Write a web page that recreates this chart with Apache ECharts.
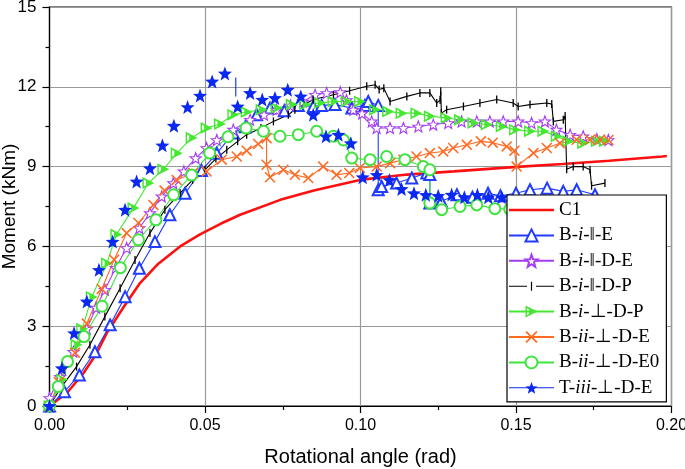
<!DOCTYPE html>
<html><head><meta charset="utf-8">
<script src="https://cdn.jsdelivr.net/npm/echarts@6/dist/echarts.min.js"></script>
<style>html,body{margin:0;padding:0;background:#fff}#c{width:685px;height:469px}</style>
</head><body><div id="c"></div>
<script>
// ---------- data ----------
const xAxisRange = [0, 0.2];
const xInterval = 0.05;
const yAxisRange = [0, 15];
const yInterval = 3;
const seriesNames = ['C1','B-i-‖-E','B-i-‖-D-E','B-i-‖-D-P','B-i-⊥-D-P','B-ii-⊥-D-E','B-ii-⊥-D-E0','T-iii-⊥-D-E'];

const C1 = [[0,0],[0.0056,0.49],[0.0109,1.23],[0.015,1.95],[0.0184,2.74],[0.024,3.75],[0.0291,4.62],[0.035,5.35],[0.042,6.0],[0.0484,6.45],[0.055,6.85],[0.0613,7.19],[0.0742,7.75],[0.085,8.1],[0.0998,8.5],[0.115,8.7],[0.13,8.82],[0.149,8.98],[0.165,9.1],[0.18,9.22],[0.197,9.38],[0.1985,9.4]];

const BiE = [[0,0],[0.0048,0.54],[0.0096,1.17],[0.0146,2.04],[0.0195,3.05],[0.0243,4.11],[0.0289,5.18],[0.0339,6.18],[0.0387,7.19],[0.0436,8.0],[0.0489,8.85],[0.0538,9.5],[0.0591,10.26],[0.063,10.5],[0.0666,10.95],[0.0709,11.2],[0.0755,11.1],[0.08,11.3],[0.0848,11.26],[0.0875,11.3],[0.0918,11.33],[0.0972,11.2],[0.1014,11.3],[0.1025,11.45],[0.1057,11.3],[0.1057,8.13],[0.1068,8.25],[0.1116,8.38],[0.1165,8.57],[0.1213,8.76],[0.1223,8.7],[0.1223,7.63],[0.126,7.7],[0.131,7.94],[0.136,7.85],[0.141,8.0],[0.145,7.9],[0.150,8.0],[0.1545,8.13],[0.160,8.19],[0.1652,8.07],[0.1695,8.13],[0.1754,7.94]];

const BiDE = [[0,0.3],[0.0034,1.1],[0.0077,2.04],[0.012,2.9],[0.015,3.7],[0.0178,4.37],[0.0213,5.2],[0.0248,5.94],[0.0289,6.69],[0.0323,7.25],[0.0361,7.88],[0.0398,8.38],[0.0432,8.82],[0.047,9.32],[0.0505,9.7],[0.0538,10.0],[0.0591,10.39],[0.0645,10.76],[0.069,10.95],[0.073,11.14],[0.0775,11.3],[0.0815,11.45],[0.0854,11.7],[0.0891,11.77],[0.0935,11.8],[0.0955,11.5],[0.0977,11.14],[0.1005,11.0],[0.1036,10.7],[0.1052,10.45],[0.1095,10.45],[0.1138,10.45],[0.1186,10.51],[0.1234,10.58],[0.1282,10.64],[0.1325,10.7],[0.1374,10.7],[0.1416,10.7],[0.1459,10.7],[0.1507,10.7],[0.155,10.64],[0.1593,10.7],[0.163,10.39],[0.1674,10.2],[0.1716,10.14],[0.176,10.03],[0.1797,10.0]];

const BiDP = [[0,0],[0.0039,0.73],[0.0087,1.48],[0.013,2.3],[0.0178,3.36],[0.0227,4.43],[0.0275,5.49],[0.0323,6.5],[0.0371,7.38],[0.042,8.0],[0.046,8.5],[0.05,8.88],[0.0535,9.3],[0.057,9.63],[0.0605,9.95],[0.0634,10.2],[0.068,10.45],[0.072,10.7],[0.0768,10.95],[0.0789,11.14],[0.0848,11.52],[0.0913,11.7],[0.0965,11.85],[0.102,12.02],[0.1047,12.08],[0.106,11.9],[0.1075,11.95],[0.1095,11.45],[0.1149,11.64],[0.1191,11.77],[0.1223,11.77],[0.1245,11.39],[0.1256,11.5],[0.1258,11.83],[0.126,11.01],[0.1277,11.14],[0.1331,11.26],[0.1384,11.39],[0.1438,11.52],[0.1491,11.39],[0.1507,11.26],[0.1545,11.33],[0.1599,11.39],[0.1615,11.35],[0.162,10.7],[0.1652,10.76],[0.1658,10.9],[0.1663,8.9],[0.1684,9.0],[0.1716,9.0],[0.1738,8.88],[0.1743,8.28],[0.1786,8.38]];

const BiPerpDP = [[0,0],[0.004,1.0],[0.0087,2.3],[0.0105,2.9],[0.0136,4.1],[0.0185,5.37],[0.0215,6.45],[0.027,7.44],[0.0318,8.38],[0.0366,8.9],[0.0409,9.5],[0.0457,10.08],[0.0505,10.45],[0.0548,10.6],[0.0591,10.95],[0.0634,11.05],[0.0682,11.14],[0.073,11.2],[0.0779,11.33],[0.0822,11.33],[0.087,11.39],[0.0913,11.45],[0.0956,11.45],[0.0998,11.45],[0.1047,11.14],[0.1089,11.07],[0.1132,11.01],[0.118,11.01],[0.1223,10.89],[0.1277,10.83],[0.132,10.76],[0.1363,10.64],[0.1406,10.58],[0.1454,10.51],[0.1497,10.39],[0.1545,10.33],[0.1588,10.33],[0.1631,10.14],[0.1668,9.95],[0.1716,9.88],[0.176,9.95],[0.1786,9.95]];

const BiiPerpDE = [[0,0],[0.003,0.9],[0.0082,2.0],[0.012,3.1],[0.0168,4.4],[0.0208,5.5],[0.0248,6.5],[0.0286,6.88],[0.0334,7.56],[0.037,8.1],[0.0409,8.5],[0.0462,8.76],[0.0505,8.82],[0.0554,9.26],[0.0602,9.38],[0.0634,9.6],[0.0671,9.85],[0.0698,10.07],[0.0698,9.07],[0.0709,8.6],[0.0752,8.88],[0.0789,8.69],[0.0832,8.57],[0.088,9.0],[0.0923,8.69],[0.0964,8.76],[0.0998,8.95],[0.1052,9.0],[0.1095,9.13],[0.1138,9.26],[0.118,9.38],[0.1223,9.51],[0.1266,9.57],[0.1298,9.7],[0.1342,9.82],[0.1387,9.95],[0.1425,9.9],[0.147,9.76],[0.1495,9.6],[0.1502,9.0],[0.1556,9.51],[0.1599,9.7],[0.1641,9.88],[0.1695,10.01],[0.1738,10.01],[0.177,10.01],[0.1797,10.0]];

const BiiPerpDE0 = [[0,0],[0.0028,0.73],[0.0058,1.67],[0.0111,2.61],[0.0169,3.75],[0.0228,5.2],[0.0286,6.25],[0.0342,7.0],[0.0399,7.94],[0.0457,8.68],[0.0515,9.51],[0.0574,10.12],[0.0632,10.45],[0.0688,10.33],[0.0741,10.14],[0.08,10.2],[0.0859,10.33],[0.0913,10.14],[0.0945,10.0],[0.0972,9.32],[0.1031,9.26],[0.1084,9.38],[0.1143,9.26],[0.1202,9.0],[0.1223,8.88],[0.1223,7.63],[0.1261,7.38],[0.132,7.5],[0.1374,7.56],[0.1432,7.42],[0.148,7.4]];

const TiiiPerpDE = [[0,0],[0.004,1.42],[0.0079,2.74],[0.012,3.93],[0.0159,5.12],[0.0203,6.18],[0.0243,7.38],[0.028,8.44],[0.0323,8.94],[0.0363,9.8],[0.04,10.54],[0.0444,11.24],[0.0484,11.67],[0.0523,12.2],[0.0564,12.5],[0.0605,11.26],[0.0645,11.77],[0.0684,11.52],[0.0725,11.58],[0.0766,11.89],[0.0808,11.64],[0.0848,10.95],[0.0889,10.14],[0.0929,10.2],[0.0969,9.88],[0.1007,8.6],[0.1052,8.69],[0.1093,8.5],[0.1132,8.16],[0.1172,8.0],[0.121,7.94],[0.125,7.9],[0.1293,7.95],[0.1334,7.85],[0.1376,7.94],[0.1411,7.85],[0.1454,7.85]];

const TiiiDrop = [[0.0599,12.35],[0.0599,11.64]];

// ---------- styling ----------
function starPath(inner){
  let p = 'path://';
  for (let i = 0; i < 10; i++) {
    const a = (-90 + i * 36) * Math.PI / 180;
    const r = i % 2 ? inner : 1;
    p += (i ? 'L' : 'M') + (50 + 50 * r * Math.cos(a)).toFixed(2) + ',' + (50 + 50 * r * Math.sin(a)).toFixed(2);
  }
  return p + 'Z';
}
const STAR = starPath(0.42);
const XMARK = 'path://M0,1L1,0L10,9L9,10ZM9,0L10,1L1,10L0,9Z';
const HALFTRI = 'path://M0,0L10,5L0,10ZM1.2,2.2L1.2,7.8L3,6.9L3,3.1Z';
const VBAR = 'path://M0,0L1.3,0L1.3,8L0,8Z';
const HLINE = 'path://M0,0L45,0L45,2.6L0,2.6Z';
const TICKLINE = 'path://M0,4L18,4L18,5.1L0,5.1ZM21.9,0L23.1,0L23.1,9L21.9,9ZM27,4L45,4L45,5.1L27,5.1Z';

const sans = 'Liberation Sans, Arial, sans-serif';
const serif = 'Liberation Serif, Times New Roman, serif';

const COL = {
  red:'#ff1010', blue:'#1f3cff', purple:'#a53cf5', black:'#000000',
  green:'#44e830', orange:'#ff6a22', green2:'#3fe43f', blue2:'#0a28f0'
};

function lineSeries(name, data, color, sym, size, itemStyle, extra){
  return Object.assign({
    name, type:'line', data, symbol:sym, symbolSize:size, showAllSymbol:true,
    lineStyle:{color, width:1.1}, itemStyle:Object.assign({color}, itemStyle||{}),
    animation:false, z:3
  }, extra||{});
}

const series = [
  {name:seriesNames[0], type:'line', data:C1, symbol:'none', lineStyle:{color:COL.red, width:2.6}, itemStyle:{color:COL.red}, animation:false, z:2},
  lineSeries(seriesNames[1], BiE, COL.blue, 'emptyTriangle', 11, {borderWidth:1.2}),
  lineSeries(seriesNames[2], BiDE, COL.purple, STAR, 11, {color:'#fff', borderColor:COL.purple, borderWidth:1.1}),
  lineSeries(seriesNames[3], BiDP, COL.black, VBAR, 8, {}, {symbolKeepAspect:true}),
  lineSeries(seriesNames[4], BiPerpDP, COL.green, HALFTRI, 12, {}),
  lineSeries(seriesNames[5], BiiPerpDE, COL.orange, XMARK, 11, {}),
  lineSeries(seriesNames[6], BiiPerpDE0, COL.green2, 'emptyCircle', 11, {borderWidth:1.2}),
  lineSeries(seriesNames[7], TiiiPerpDE, COL.blue2, STAR, 14, {}, {lineStyle:{color:COL.blue2, width:1.1, opacity:0}}),
  {name:'_drop', type:'line', data:TiiiDrop, symbol:'none', lineStyle:{color:COL.blue2, width:1.1}, animation:false, z:3}
];

const legendData = seriesNames.map(n => {
  if (n === seriesNames[0]) return {name:n, icon:HLINE, itemStyle:{color:COL.red}};
  if (n === seriesNames[3]) return {name:n, icon:TICKLINE, itemStyle:{color:'#000'}};
  if (n === seriesNames[7]) return {name:n, lineStyle:{opacity:1, color:COL.blue2, width:1.1}};
  return {name:n};
});

const axisCommon = {
  axisLine:{show:true, lineStyle:{color:'#000', width:1.2}},
  axisTick:{show:true, length:7, lineStyle:{color:'#000', width:1.2}},
  minorTick:{show:true, splitNumber:2, length:4, lineStyle:{color:'#000', width:1.2}},
  splitLine:{show:true, lineStyle:{color:'#9a9a9a', width:1.2}}
};

const chart = echarts.init(document.getElementById('c'), null, {renderer:'canvas'});
chart.setOption({
  backgroundColor:'#fff',
  animation:false,
  grid:{left:49.5, right:13.5, top:7, bottom:63, outerBoundsMode:'none', containLabel:false,
    show:true, borderColor:'#000', borderWidth:1.2, backgroundColor:'transparent'},
  xAxis:Object.assign({
    type:'value', min:xAxisRange[0], max:xAxisRange[1], interval:xInterval,
    name:'Rotational angle (rad)', nameLocation:'middle', nameGap:41, nameMoveOverlap:false,
    nameTextStyle:{fontFamily:sans, fontSize:20, color:'#000'},
    axisLabel:{fontFamily:sans, fontSize:16, color:'#000', margin:12, formatter:v => v.toFixed(2)}
  }, axisCommon),
  yAxis:Object.assign({
    type:'value', min:yAxisRange[0], max:yAxisRange[1], interval:yInterval,
    name:'Moment (kNm)', nameLocation:'middle', nameGap:30, nameMoveOverlap:false,
    nameTextStyle:{fontFamily:sans, fontSize:19, color:'#000'},
    axisLabel:{fontFamily:sans, fontSize:17, color:'#000', margin:13}
  }, axisCommon),
  legend:{
    orient:'vertical', left:507, top:195, selectedMode:false,
    data:legendData,
    backgroundColor:'#fff', borderColor:'#000', borderWidth:1.2,
    padding:[5, 7, 4, 1], itemWidth:45, itemHeight:15, itemGap:5.4,
    textStyle:{fontFamily:serif, fontSize:19, color:'#000', lineHeight:20,
      rich:{n:{fontFamily:serif, fontSize:19, color:'#000'}, i:{fontFamily:serif, fontSize:19, fontStyle:'italic', color:'#000'}}},
    formatter:function(name){
      const p = name.split('-');
      if (p.length < 2) return '{n|' + name + '}';
      return '{n|' + p[0] + '-}{i|' + p[1] + '}{n|-' + p.slice(2).join('-') + '}';
    }
  },
  series
});
</script></body></html>
